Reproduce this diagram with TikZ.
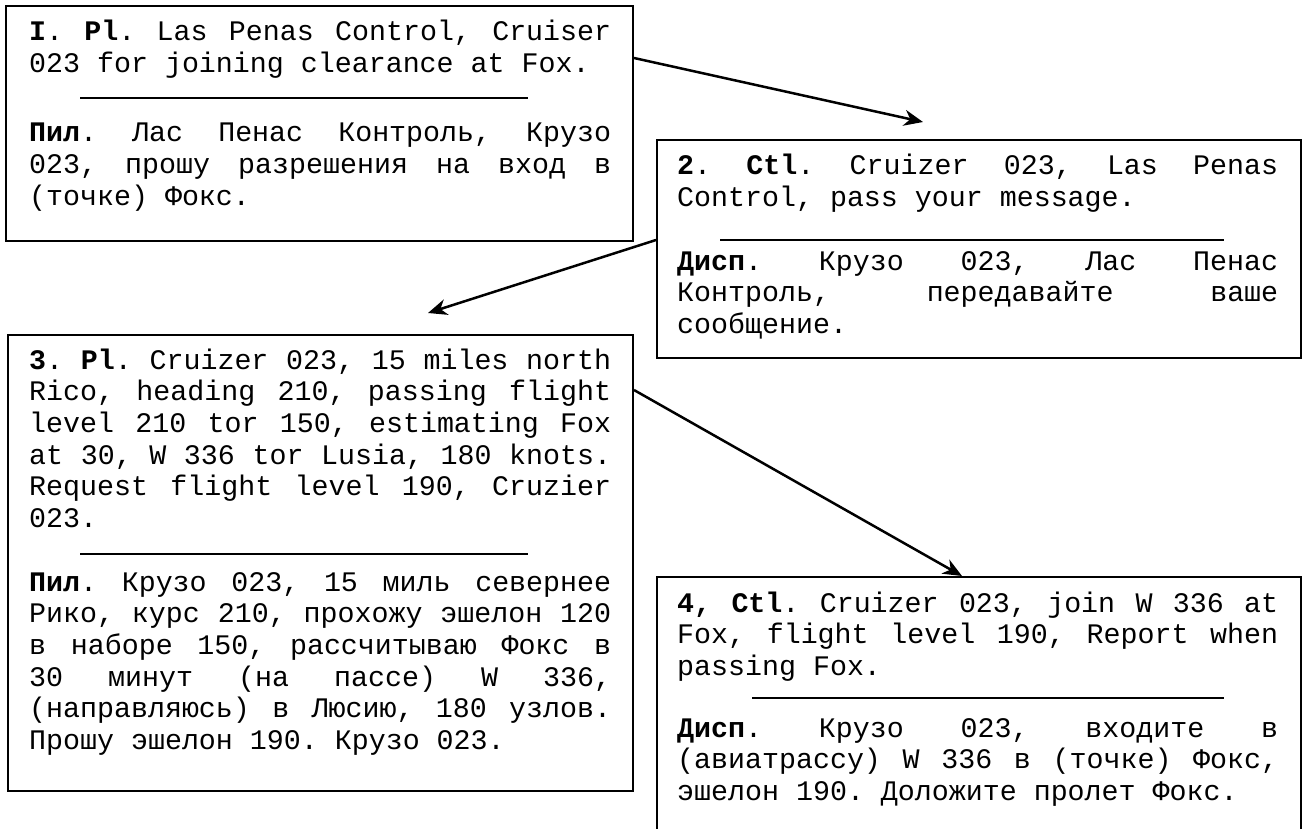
\documentclass[tikz,border=0pt]{standalone}
\usepackage{fontspec}
\setmonofont{Liberation Mono}
\usetikzlibrary{arrows.meta}
\newlength\tw
% a justified line: the spaces stretch evenly to fill \tw
\newcommand\jl[1]{\leavevmode\hbox to \tw{\spaceskip=0.6em plus 1fil\relax #1}}
% a closing line at its natural width, one character cell per space
\newcommand\nl[1]{\leavevmode\hbox{\spaceskip=0.6em\relax #1}}
\begin{document}
\begin{tikzpicture}[x=1pt,y=-1pt,
  box/.style={draw, line width=2pt, inner sep=0pt, anchor=north west},
  txt/.style={inner sep=0pt, anchor=base west, align=left,
    font=\ttfamily\fontsize{28.3}{31.7}\selectfont\frenchspacing},
  rulesep/.style={line width=2pt},
  conn/.style={line width=2.5pt, -{Stealth[length=19pt,width=16pt,inset=6pt]}}]
\clip (0,0) rectangle (1304,829);
\fill[white] (0,0) rectangle (1304,829);

% message frames
\node[box, minimum width=627pt, minimum height=235pt] (box1) at (5,5) {};
\node[box, minimum width=644pt, minimum height=218pt] (box2) at (656,139) {};
\node[box, minimum width=625pt, minimum height=456pt] (box3) at (7,334) {};
\node[box, minimum width=644pt, minimum height=300pt] (box4) at (656,576) {};

% 1: pilot
\setlength\tw{582pt}
\node[txt, text width=582pt] (m1en) at (29,41) {%
\jl{\textbf{I}. \textbf{Pl}. Las Penas Control, Cruiser}\\
\nl{023 for joining clearance at Fox.}};
\draw[rulesep] (80,98) -- (528,98);
\node[txt, text width=582pt] (m1ru) at (29,142) {%
\jl{\textbf{Пил}. Лас Пенас Контроль, Крузо}\\
\jl{023, прошу разрешения на вход в}\\
\nl{(точке) Фокс.}};

% 2: controller
\setlength\tw{601pt}
\node[txt, text width=601pt] (m2en) at (677,175) {%
\jl{\textbf{2}. \textbf{Ctl}. Cruizer 023, Las Penas}\\
\nl{Control, pass your message.}};
\draw[rulesep] (720,240) -- (1224,240);
\node[txt, text width=601pt] (m2ru) at (677,270) {%
\jl{\textbf{Дисп}. Крузо 023, Лас Пенас}\\
\jl{Контроль, передавайте ваше}\\
\nl{сообщение.}};

% 3: pilot
\setlength\tw{582pt}
\node[txt, text width=582pt] (m3en) at (29,369) {%
\jl{\textbf{3}. \textbf{Pl}. Cruizer 023, 15 miles north}\\
\jl{Rico, heading 210, passing flight}\\
\jl{level 210 tor 150, estimating Fox}\\
\jl{at 30, W 336 tor Lusia, 180 knots.}\\
\jl{Request flight level 190, Cruzier}\\
\nl{023.}};
\draw[rulesep] (80,554) -- (528,554);
\node[txt, text width=582pt] (m3ru) at (29,591) {%
\jl{\textbf{Пил}. Крузо 023, 15 миль севернее}\\
\jl{Рико, курс 210, прохожу эшелон 120}\\
\jl{в наборе 150, рассчитываю Фокс в}\\
\jl{30 минут (на пассе) W 336,}\\
\jl{(направляюсь) в Люсию, 180 узлов.}\\
\nl{Прошу эшелон 190. Крузо 023.}};

% 4: controller
\setlength\tw{601pt}
\node[txt, text width=601pt] (m4en) at (677,612) {%
\jl{\textbf{4, Ctl}. Cruizer 023, join W 336 at}\\
\jl{Fox, flight level 190, Report when}\\
\nl{passing Fox.}};
\draw[rulesep] (752,698) -- (1224,698);
\node[txt, text width=601pt] (m4ru) at (677,737) {%
\jl{\textbf{Дисп}. Крузо 023, входите в}\\
\jl{(авиатрассу) W 336 в (точке) Фокс,}\\
\nl{эшелон 190. Доложите пролет Фокс.}};

% exchange order
\path (box1.north east) ++(0,53) coordinate (a1from);
\coordinate (a1to) at (923,122);
\path (box2.north west) ++(0,101) coordinate (a2from);
\coordinate (a2to) at (428,313);
\path (box3.north east) ++(0,56) coordinate (a3from);
\path (box4.north west) ++(306,0) coordinate (a3to);
\draw[conn] (a1from) -- (a1to);
\draw[conn] (a2from) -- (a2to);
\draw[conn] (a3from) -- (a3to);
\end{tikzpicture}
\end{document}
